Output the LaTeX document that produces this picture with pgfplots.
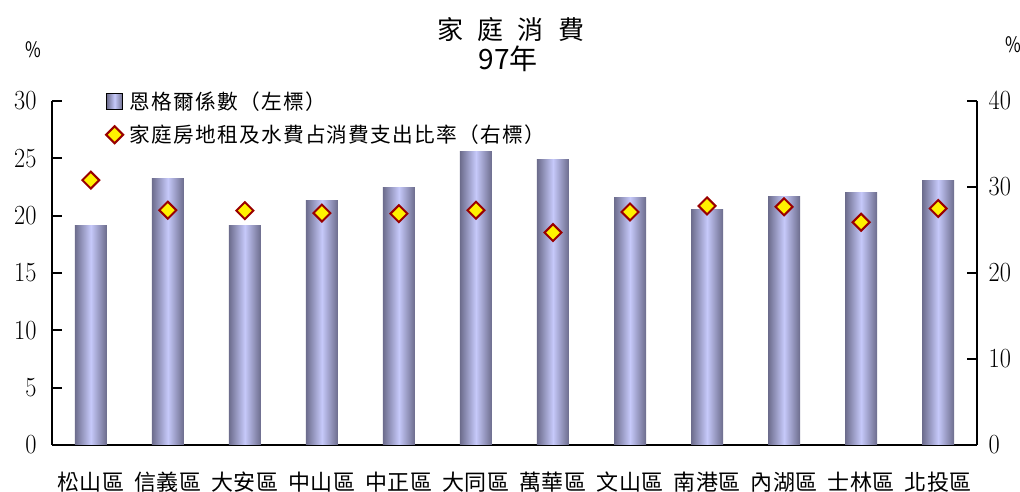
\documentclass[border=0pt]{standalone}
\usepackage{fontspec}
\setmainfont{Noto Sans CJK TC}
\newfontfamily\legfont[LetterSpace=6]{Noto Sans CJK TC}
\usepackage{pgfplots}
\pgfplotsset{compat=1.18}
\definecolor{bardark}{HTML}{6C6C8C}
\definecolor{barlight}{HTML}{C6C9FA}
\definecolor{mkred}{HTML}{990000}
\pgfdeclarehorizontalshading{barshade}{100bp}{color(0bp)=(bardark); color(25bp)=(bardark); color(50bp)=(barlight); color(75bp)=(bardark); color(100bp)=(bardark)}
\begin{document}
\begin{tikzpicture}
\path[use as bounding box] (0,0) rectangle (765pt,369pt);
\pgfplotsset{
  common/.style={
    at={(39.2pt,35.25pt)}, anchor=south west, scale only axis,
    width=693.3pt, height=258pt,
    xmin=-0.5, xmax=11.5,
    axis line style={-, line width=1.5pt},
    tick align=inside, major tick length=7.5pt,
    ytick style={line width=1.5pt, black},
    xtick style={draw=none},
    clip=false,
  },
  onebar/.style={ybar, bar width=24pt, bar shift=0pt, draw=none, shade, shading=barshade, forget plot},
}
\begin{axis}[common,
  ymin=0, ymax=30, ytick={0,5,...,30},
  axis x line*=bottom, axis y line*=left,
  xtick={0,...,11},
  xticklabels={松山區,信義區,大安區,中山區,中正區,大同區,萬華區,文山區,南港區,內湖區,士林區,北投區},
  xticklabel style={font=\fontsize{16.5}{16.5}\selectfont\addfontfeature{LetterSpace=3}, anchor=center, yshift=-27.75pt},
  yticklabel={\scalebox{0.88}[1]{$\pgfmathprintnumber{\tick}$}},
  yticklabel style={font=\fontsize{20}{20}\selectfont, xshift=-8.25pt},
  legend style={at={(0.058,1.035)}, anchor=north west, draw=none, fill=none,
    inner sep=0pt, font=\fontsize{15.5}{15.5}\selectfont\legfont, row sep=6pt,
    legend cell align=left},
]
\addplot[onebar] coordinates {(0,19.1)};
\addplot[onebar] coordinates {(1,23.2)};
\addplot[onebar] coordinates {(2,19.1)};
\addplot[onebar] coordinates {(3,21.3)};
\addplot[onebar] coordinates {(4,22.5)};
\addplot[onebar] coordinates {(5,25.6)};
\addplot[onebar] coordinates {(6,24.9)};
\addplot[onebar] coordinates {(7,21.6)};
\addplot[onebar] coordinates {(8,20.5)};
\addplot[onebar] coordinates {(9,21.7)};
\addplot[onebar] coordinates {(10,22.0)};
\addplot[onebar] coordinates {(11,23.1)};
\addlegendimage{legend image code/.code={\path[shade, shading=barshade] (0.3cm-6pt,-6pt) rectangle (0.3cm+6pt,6pt);}}
\addlegendentry{\hspace{3pt}恩格爾係數（左標）}
\addlegendimage{only marks, mark=square*, mark size=4.5pt, mark options={rotate=45, fill=yellow, draw=mkred, line width=1.5pt}}
\addlegendentry{\hspace{3pt}家庭房地租及水費占消費支出比率（右標）}
\end{axis}
\begin{axis}[common,
  ymin=0, ymax=40, ytick={0,10,...,40},
  axis y line*=right, axis x line=none,
  yticklabel={\scalebox{0.88}[1]{$\pgfmathprintnumber{\tick}$}},
  yticklabel style={font=\fontsize{20}{20}\selectfont, xshift=5.5pt},
]
\addplot[only marks, mark=square*, mark size=4.5pt, mark options={rotate=45, fill=yellow, draw=mkred, line width=1.5pt}]
  coordinates {(0,30.8) (1,27.3) (2,27.25) (3,26.97) (4,26.9) (5,27.3) (6,24.7) (7,27.1) (8,27.8) (9,27.7) (10,25.9) (11,27.5)};
\end{axis}
\node[font=\fontsize{19.5}{19.5}\selectfont] at (383pt,346.9pt) {家\hspace{0.55em}庭\hspace{0.55em}消\hspace{0.55em}費};
\node[font=\fontsize{21}{21}\selectfont] at (381pt,324.75pt) {97年};
\node[font=\fontsize{16}{16}\selectfont] at (25.1pt,331.5pt) {\scalebox{0.8}[1]{$\%$}};
\node[font=\fontsize{16}{16}\selectfont] at (759.75pt,335.25pt) {\scalebox{0.8}[1]{$\%$}};
\end{tikzpicture}
\end{document}
